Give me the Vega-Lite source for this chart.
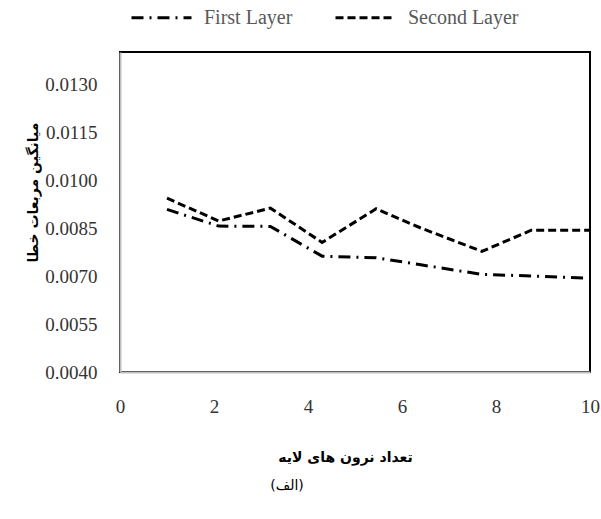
{
  "$schema": "https://vega.github.io/schema/vega-lite/v6.json",
  "width": 470,
  "height": 320,
  "autosize": {"type": "none"},
  "padding": {"left": 120, "top": 52, "right": 11, "bottom": 147},
  "background": "white",
  "config": {
    "view": {"stroke": "#000000", "strokeWidth": 2},
    "font": "Liberation Serif",
    "axis": {
      "labelFont": "Liberation Serif",
      "labelFontSize": 19,
      "labelColor": "#333333",
      "ticks": false,
      "grid": false,
      "domainColor": "#bfbfbf",
      "domainWidth": 2,
      "titleFont": "DejaVu Sans",
      "titleFontSize": 14,
      "titleFontWeight": "bold",
      "titleColor": "#000000"
    },
    "legend": {
      "labelFont": "Liberation Serif",
      "labelFontSize": 20,
      "labelColor": "#595959"
    }
  },
  "title": {
    "text": "(الف)",
    "orient": "bottom",
    "font": "DejaVu Sans",
    "fontSize": 14,
    "fontWeight": "normal",
    "color": "#000000",
    "dx": -68,
    "offset": 15
  },
  "data": {
    "values": [
      {"neurons": 1, "mse": 0.00908, "layer": "First Layer"},
      {"neurons": 2.1, "mse": 0.00856, "layer": "First Layer"},
      {"neurons": 3.2, "mse": 0.00855, "layer": "First Layer"},
      {"neurons": 4.3, "mse": 0.00762, "layer": "First Layer"},
      {"neurons": 5.45, "mse": 0.00757, "layer": "First Layer"},
      {"neurons": 6.4, "mse": 0.00735, "layer": "First Layer"},
      {"neurons": 7.7, "mse": 0.00705, "layer": "First Layer"},
      {"neurons": 8.75, "mse": 0.00700, "layer": "First Layer"},
      {"neurons": 10, "mse": 0.00693, "layer": "First Layer"},
      {"neurons": 1, "mse": 0.00943, "layer": "Second Layer"},
      {"neurons": 2.1, "mse": 0.00872, "layer": "Second Layer"},
      {"neurons": 3.2, "mse": 0.00912, "layer": "Second Layer"},
      {"neurons": 4.3, "mse": 0.00805, "layer": "Second Layer"},
      {"neurons": 5.45, "mse": 0.00910, "layer": "Second Layer"},
      {"neurons": 6.4, "mse": 0.00850, "layer": "Second Layer"},
      {"neurons": 7.7, "mse": 0.00777, "layer": "Second Layer"},
      {"neurons": 8.75, "mse": 0.00843, "layer": "Second Layer"},
      {"neurons": 10, "mse": 0.00843, "layer": "Second Layer"}
    ]
  },
  "mark": {"type": "line", "strokeWidth": 3, "color": "#000000", "strokeCap": "butt"},
  "encoding": {
    "x": {
      "field": "neurons",
      "type": "quantitative",
      "scale": {"domain": [0, 10], "nice": false, "zero": false},
      "axis": {
        "title": "تعداد نرون های لایه",
        "titlePadding": 34,
        "titleX": 225,
        "values": [0, 2, 4, 6, 8, 10],
        "labelPadding": 25,
        "labelFlush": false
      }
    },
    "y": {
      "field": "mse",
      "type": "quantitative",
      "scale": {"domain": [0.004, 0.014], "nice": false, "zero": false},
      "axis": {
        "title": "میانگین مربعات خطا",
        "titlePadding": 4,
        "titleY": 140,
        "values": [0.004, 0.0055, 0.007, 0.0085, 0.01, 0.0115, 0.013],
        "format": ".4f",
        "labelPadding": 23
      }
    },
    "strokeDash": {
      "field": "layer",
      "type": "nominal",
      "scale": {
        "domain": ["First Layer", "Second Layer"],
        "range": [[12, 6, 2, 6], [8, 4]]
      },
      "legend": {
        "title": null,
        "orient": "none",
        "direction": "horizontal",
        "legendX": 10,
        "legendY": -66,
        "symbolType": "stroke",
        "symbolSize": 3600,
        "symbolStrokeWidth": 3,
        "symbolStrokeColor": "#000000",
        "labelOffset": 11,
        "columnPadding": 36
      }
    }
  }
}
